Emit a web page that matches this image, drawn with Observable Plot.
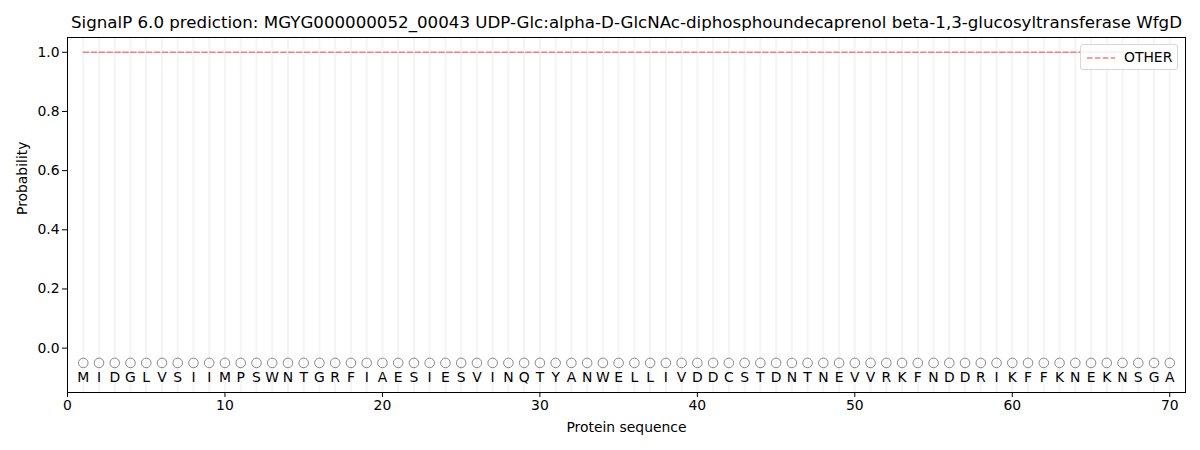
<!DOCTYPE html>
<html>
<head>
<meta charset="utf-8">
<script src="https://cdn.jsdelivr.net/npm/d3@7"></script>
<script src="https://cdn.jsdelivr.net/npm/@observablehq/plot@0.6"></script>
<style>
  html, body { margin: 0; padding: 0; background: #fff; }
  #wrap { position: relative; width: 1200px; height: 450px; font-family: "DejaVu Sans", sans-serif; }
  #legend { position: absolute; left: 1080px; top: 44px; width: 98px; height: 26px; border: 1px solid #d6d6d6; border-radius: 3px; background: rgba(255,255,255,0.85); box-sizing: border-box; font-size: 13.9px; color: #000; }
  #legend svg { position: absolute; left: 6px; top: 11px; }
  #legend span { position: absolute; left: 43px; top: 4px; }
</style>
</head>
<body>
<div id="wrap">
  <div id="chart"></div>
  <div id="legend"><svg width="30" height="4"><line x1="0" y1="2" x2="28" y2="2" stroke="#f27f7f" stroke-width="1.5" stroke-dasharray="5.5,2.4"/></svg><span>OTHER</span></div>
</div>
<script>
const title = "SignalP 6.0 prediction: MGYG000000052_00043 UDP-Glc:alpha-D-GlcNAc-diphosphoundecaprenol beta-1,3-glucosyltransferase WfgD";
const sequence = "MIDGLVSIIMPSWNTGRFIAESIESVINQTYANWELLIVDDCSTDNTNEVVRKFNDDRIKFFKNEKNSGA".split("");
const positions = sequence.map((_, i) => i + 1);
const otherProb = sequence.map(() => 1.0);
const labels = sequence.map(() => "O");
const xTicks = [0, 10, 20, 30, 40, 50, 60, 70];
const yTicks = [0, 0.2, 0.4, 0.6, 0.8, 1.0];
const markerY = -0.05;
const letterY = -0.1;

const rows = positions.map((p, i) => ({pos: p, aa: sequence[i], other: otherProb[i], lab: labels[i]}));

const chart = Plot.plot({
  width: 1200,
  height: 450,
  marginLeft: 67,
  marginRight: 15,
  marginTop: 37,
  marginBottom: 58,
  style: {fontFamily: "DejaVu Sans, sans-serif", fontSize: "13.9px", color: "#000", background: "#fff"},
  x: {domain: [0, 71], ticks: xTicks},
  y: {domain: [-0.15, 1.05], ticks: yTicks},
  marks: [
    Plot.ruleX(positions, {stroke: "#f4f4f4", strokeWidth: 2}),
    Plot.line(rows, {x: "pos", y: "other", stroke: "#f27f7f", strokeWidth: 1.5, strokeDasharray: "5.5,2.4"}),
    Plot.dot(rows, {x: "pos", y: () => markerY, r: 4.8, stroke: "#8a8a8a", fill: "none", strokeWidth: 1}),
    Plot.text(rows, {x: "pos", y: () => letterY, text: "aa", fontSize: 13.9, fill: "#000"}),
    Plot.frame({stroke: "#000"}),
    Plot.axisX({ticks: xTicks, tickSize: 5, tickPadding: 3, label: null, fontSize: 13.9, tickFormat: d3.format("d")}),
    Plot.axisY({ticks: yTicks, tickSize: 5, tickPadding: 3, label: null, fontSize: 13.9, tickFormat: d3.format(".1f")}),
    Plot.text(["Protein sequence"], {frameAnchor: "bottom", lineAnchor: "middle", dy: 35, fontSize: 13.9}),
    Plot.text(["Probability"], {frameAnchor: "left", dx: -45, rotate: -90, fontSize: 13.9}),
    Plot.text([title], {frameAnchor: "top", lineAnchor: "middle", dy: -15, fontSize: 16.67})
  ]
});
document.getElementById("chart").appendChild(chart);
</script>
</body>
</html>
